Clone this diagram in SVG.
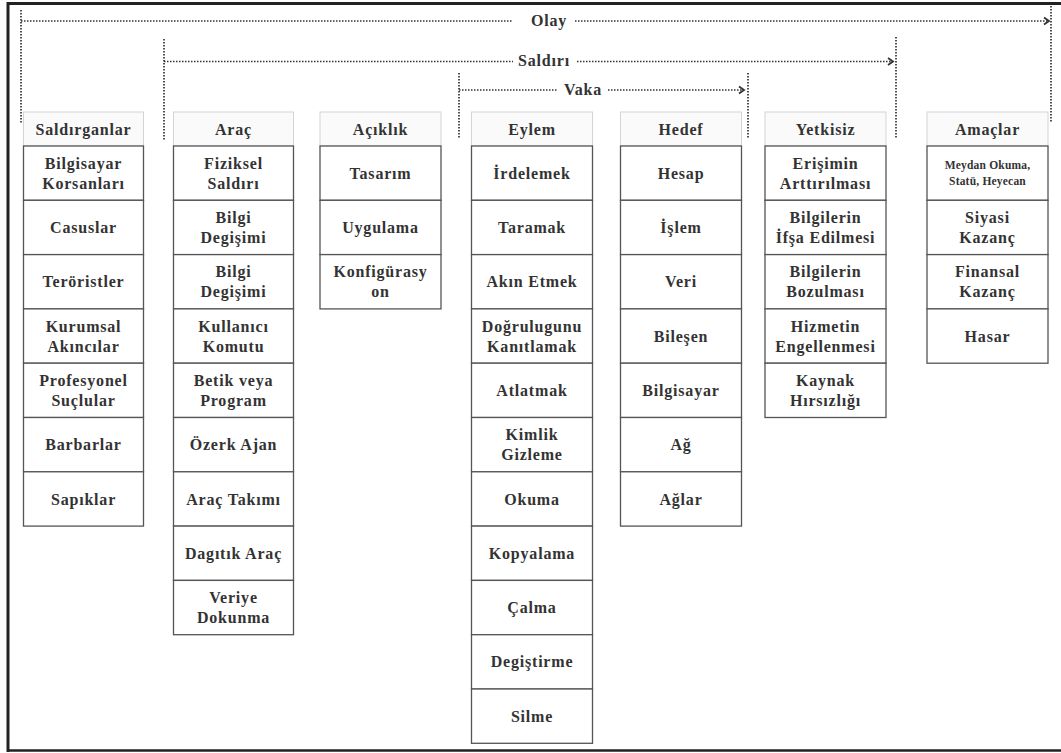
<svg xmlns="http://www.w3.org/2000/svg" width="1061" height="753" viewBox="0 0 1061 753">
<style>
.cell rect{fill:#fff;stroke:#555;stroke-width:1.3}
.hdr rect{fill:#fafafa;stroke:#d4d4d4;stroke-width:1}
text{font-family:"Liberation Serif",serif;font-weight:bold;font-size:16px;fill:#333;text-anchor:middle;dominant-baseline:central;letter-spacing:0.8px}
.sm{font-size:11.5px;letter-spacing:0.2px}
.dot{stroke:#333;stroke-width:1.7;stroke-dasharray:1.5 1.5;fill:none}
.frame{stroke:#222;fill:none}
</style>
<defs>
<marker id="ah" markerWidth="10" markerHeight="10" refX="7" refY="5" orient="auto" markerUnits="userSpaceOnUse">
<path d="M2,1.5 L7,5 L2,8.5" fill="none" stroke="#333" stroke-width="1.8"/>
</marker>
</defs>
<rect width="1061" height="753" fill="#fff"/>
<g id="frame">
<path class="frame" d="M8,752 L8,3.5 L1061,3.5" stroke-width="3"/>
<path class="frame" d="M8,750.5 L1061,750.5" stroke-width="2.5"/>
</g>
<g id="connectors">
<path class="dot" d="M21,10 L21,124"/>
<path class="dot" d="M21,21 L512,21"/>
<path class="dot" d="M575,21 L1049,21" marker-end="url(#ah)"/>
<path class="dot" d="M1051,6 L1051,122"/>
<path class="dot" d="M164,39 L164,141"/>
<path class="dot" d="M164,61.5 L513,61.5"/>
<path class="dot" d="M577,61.5 L893,61.5" marker-end="url(#ah)"/>
<path class="dot" d="M896,37 L896,139"/>
<path class="dot" d="M459,73 L459,139"/>
<path class="dot" d="M459,90 L558,90"/>
<path class="dot" d="M608,90 L744,90" marker-end="url(#ah)"/>
<path class="dot" d="M748,73 L748,138"/>
</g>
<g id="labels">
<text x="549" y="20">Olay</text>
<text x="544" y="60">Saldırı</text>
<text x="583" y="89">Vaka</text>
</g>
<g id="col-saldirganlar">
<g id="h-saldirganlar" class="hdr"><rect x="23.5" y="112" width="120" height="34"/><text x="83.5" y="129">Saldırganlar</text></g>
<g id="n-s1" class="cell"><rect x="23.5" y="146" width="120" height="54.3"/><text x="83.5" y="163">Bilgisayar</text><text x="83.5" y="183">Korsanları</text></g>
<g id="n-s2" class="cell"><rect x="23.5" y="200.3" width="120" height="54.3"/><text x="83.5" y="227.5">Casuslar</text></g>
<g id="n-s3" class="cell"><rect x="23.5" y="254.6" width="120" height="54.3"/><text x="83.5" y="281.8">Teröristler</text></g>
<g id="n-s4" class="cell"><rect x="23.5" y="308.9" width="120" height="54.3"/><text x="83.5" y="326">Kurumsal</text><text x="83.5" y="346">Akıncılar</text></g>
<g id="n-s5" class="cell"><rect x="23.5" y="363.2" width="120" height="54.3"/><text x="83.5" y="380.4">Profesyonel</text><text x="83.5" y="400.4">Suçlular</text></g>
<g id="n-s6" class="cell"><rect x="23.5" y="417.5" width="120" height="54.3"/><text x="83.5" y="444.7">Barbarlar</text></g>
<g id="n-s7" class="cell"><rect x="23.5" y="471.8" width="120" height="54.3"/><text x="83.5" y="499">Sapıklar</text></g>
</g>
<g id="col-arac">
<g id="h-arac" class="hdr"><rect x="173.5" y="112" width="120" height="34"/><text x="233.5" y="129">Araç</text></g>
<g id="n-a1" class="cell"><rect x="173.5" y="146" width="120" height="54.3"/><text x="233.5" y="163">Fiziksel</text><text x="233.5" y="183">Saldırı</text></g>
<g id="n-a2" class="cell"><rect x="173.5" y="200.3" width="120" height="54.3"/><text x="233.5" y="217.5">Bilgi</text><text x="233.5" y="237.5">Degişimi</text></g>
<g id="n-a3" class="cell"><rect x="173.5" y="254.6" width="120" height="54.3"/><text x="233.5" y="271.8">Bilgi</text><text x="233.5" y="291.8">Degişimi</text></g>
<g id="n-a4" class="cell"><rect x="173.5" y="308.9" width="120" height="54.3"/><text x="233.5" y="326">Kullanıcı</text><text x="233.5" y="346">Komutu</text></g>
<g id="n-a5" class="cell"><rect x="173.5" y="363.2" width="120" height="54.3"/><text x="233.5" y="380.4">Betik veya</text><text x="233.5" y="400.4">Program</text></g>
<g id="n-a6" class="cell"><rect x="173.5" y="417.5" width="120" height="54.3"/><text x="233.5" y="444.7">Özerk Ajan</text></g>
<g id="n-a7" class="cell"><rect x="173.5" y="471.8" width="120" height="54.3"/><text x="233.5" y="499">Araç Takımı</text></g>
<g id="n-a8" class="cell"><rect x="173.5" y="526.1" width="120" height="54.3"/><text x="233.5" y="553.3">Dagıtık Araç</text></g>
<g id="n-a9" class="cell"><rect x="173.5" y="580.4" width="120" height="54.3"/><text x="233.5" y="597.6">Veriye</text><text x="233.5" y="617.6">Dokunma</text></g>
</g>
<g id="col-aciklik">
<g id="h-aciklik" class="hdr"><rect x="320" y="112" width="121" height="34"/><text x="380.5" y="129">Açıklık</text></g>
<g id="n-c1" class="cell"><rect x="320" y="146" width="121" height="54.3"/><text x="380.5" y="173.2">Tasarım</text></g>
<g id="n-c2" class="cell"><rect x="320" y="200.3" width="121" height="54.3"/><text x="380.5" y="227.5">Uygulama</text></g>
<g id="n-c3" class="cell"><rect x="320" y="254.6" width="121" height="54.3"/><text x="380.5" y="271.8">Konfigürasy</text><text x="380.5" y="291.8">on</text></g>
</g>
<g id="col-eylem">
<g id="h-eylem" class="hdr"><rect x="471.5" y="112" width="121" height="34"/><text x="532" y="129">Eylem</text></g>
<g id="n-e1" class="cell"><rect x="471.5" y="146" width="121" height="54.3"/><text x="532" y="173.2">İrdelemek</text></g>
<g id="n-e2" class="cell"><rect x="471.5" y="200.3" width="121" height="54.3"/><text x="532" y="227.5">Taramak</text></g>
<g id="n-e3" class="cell"><rect x="471.5" y="254.6" width="121" height="54.3"/><text x="532" y="281.8">Akın Etmek</text></g>
<g id="n-e4" class="cell"><rect x="471.5" y="308.9" width="121" height="54.3"/><text x="532" y="326">Doğrulugunu</text><text x="532" y="346">Kanıtlamak</text></g>
<g id="n-e5" class="cell"><rect x="471.5" y="363.2" width="121" height="54.3"/><text x="532" y="390.4">Atlatmak</text></g>
<g id="n-e6" class="cell"><rect x="471.5" y="417.5" width="121" height="54.3"/><text x="532" y="434.7">Kimlik</text><text x="532" y="454.7">Gizleme</text></g>
<g id="n-e7" class="cell"><rect x="471.5" y="471.8" width="121" height="54.3"/><text x="532" y="499">Okuma</text></g>
<g id="n-e8" class="cell"><rect x="471.5" y="526.1" width="121" height="54.3"/><text x="532" y="553.3">Kopyalama</text></g>
<g id="n-e9" class="cell"><rect x="471.5" y="580.4" width="121" height="54.3"/><text x="532" y="607.6">Çalma</text></g>
<g id="n-e10" class="cell"><rect x="471.5" y="634.7" width="121" height="54.3"/><text x="532" y="661.9">Degiştirme</text></g>
<g id="n-e11" class="cell"><rect x="471.5" y="689" width="121" height="54.3"/><text x="532" y="716.2">Silme</text></g>
</g>
<g id="col-hedef">
<g id="h-hedef" class="hdr"><rect x="620.5" y="112" width="121" height="34"/><text x="681" y="129">Hedef</text></g>
<g id="n-h1" class="cell"><rect x="620.5" y="146" width="121" height="54.3"/><text x="681" y="173.2">Hesap</text></g>
<g id="n-h2" class="cell"><rect x="620.5" y="200.3" width="121" height="54.3"/><text x="681" y="227.5">İşlem</text></g>
<g id="n-h3" class="cell"><rect x="620.5" y="254.6" width="121" height="54.3"/><text x="681" y="281.8">Veri</text></g>
<g id="n-h4" class="cell"><rect x="620.5" y="308.9" width="121" height="54.3"/><text x="681" y="336">Bileşen</text></g>
<g id="n-h5" class="cell"><rect x="620.5" y="363.2" width="121" height="54.3"/><text x="681" y="390.4">Bilgisayar</text></g>
<g id="n-h6" class="cell"><rect x="620.5" y="417.5" width="121" height="54.3"/><text x="681" y="444.7">Ağ</text></g>
<g id="n-h7" class="cell"><rect x="620.5" y="471.8" width="121" height="54.3"/><text x="681" y="499">Ağlar</text></g>
</g>
<g id="col-yetkisiz">
<g id="h-yetkisiz" class="hdr"><rect x="765" y="112" width="121" height="34"/><text x="825.5" y="129">Yetkisiz</text></g>
<g id="n-y1" class="cell"><rect x="765" y="146" width="121" height="54.3"/><text x="825.5" y="163">Erişimin</text><text x="825.5" y="183">Arttırılması</text></g>
<g id="n-y2" class="cell"><rect x="765" y="200.3" width="121" height="54.3"/><text x="825.5" y="217.5">Bilgilerin</text><text x="825.5" y="237.5">İfşa Edilmesi</text></g>
<g id="n-y3" class="cell"><rect x="765" y="254.6" width="121" height="54.3"/><text x="825.5" y="271.8">Bilgilerin</text><text x="825.5" y="291.8">Bozulması</text></g>
<g id="n-y4" class="cell"><rect x="765" y="308.9" width="121" height="54.3"/><text x="825.5" y="326">Hizmetin</text><text x="825.5" y="346">Engellenmesi</text></g>
<g id="n-y5" class="cell"><rect x="765" y="363.2" width="121" height="54.3"/><text x="825.5" y="380.4">Kaynak</text><text x="825.5" y="400.4">Hırsızlığı</text></g>
</g>
<g id="col-amaclar">
<g id="h-amaclar" class="hdr"><rect x="927" y="112" width="121" height="34"/><text x="987.5" y="129">Amaçlar</text></g>
<g id="n-m1" class="cell"><rect x="927" y="146" width="121" height="54.3"/><text class="sm" x="987.5" y="165">Meydan Okuma,</text><text class="sm" x="987.5" y="181">Statü, Heyecan</text></g>
<g id="n-m2" class="cell"><rect x="927" y="200.3" width="121" height="54.3"/><text x="987.5" y="217.5">Siyasi</text><text x="987.5" y="237.5">Kazanç</text></g>
<g id="n-m3" class="cell"><rect x="927" y="254.6" width="121" height="54.3"/><text x="987.5" y="271.8">Finansal</text><text x="987.5" y="291.8">Kazanç</text></g>
<g id="n-m4" class="cell"><rect x="927" y="308.9" width="121" height="54.3"/><text x="987.5" y="336">Hasar</text></g>
</g>
</svg>
